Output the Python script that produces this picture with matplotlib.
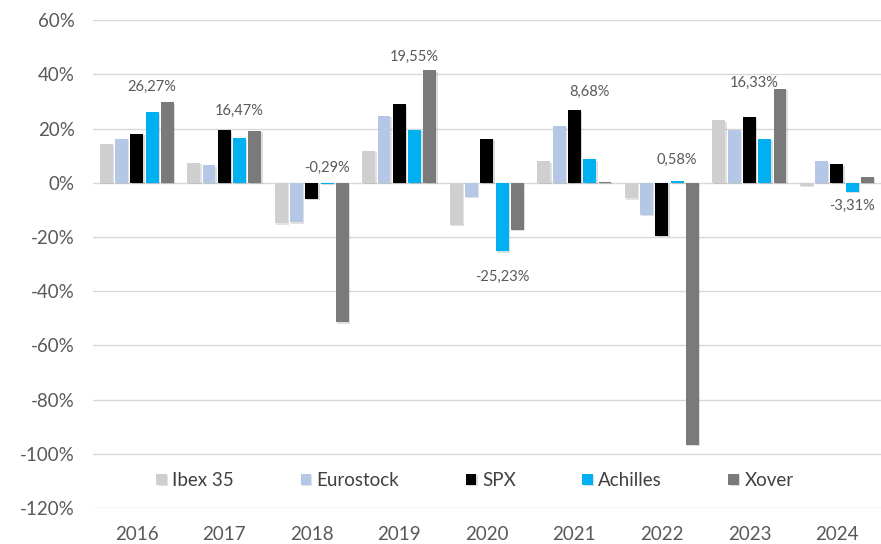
import numpy as np
import matplotlib
matplotlib.use("Agg")
import matplotlib.pyplot as plt
import matplotlib.patheffects as pe

# data (returns in %)
years = ["2016", "2017", "2018", "2019", "2020", "2021", "2022", "2023", "2024"]
ibex = [14.4, 7.3, -14.9, 11.8, -15.6, 7.9, -5.7, 23.0, -1.1]
eurostock = [16.2, 6.4, -14.6, 24.8, -5.1, 21.1, -11.9, 19.3, 7.9]
spx = [18.1, 19.6, -6.0, 29.0, 16.3, 27.0, -19.5, 24.3, 6.8]
achilles = [26.27, 16.47, -0.29, 19.55, -25.23, 8.68, 0.58, 16.33, -3.31]
xover = [29.7, 19.1, -51.4, 41.5, -17.4, 0.3, -96.7, 34.7, 2.3]

series_names = ["Ibex 35", "Eurostock", "SPX", "Achilles", "Xover"]
series = [ibex, eurostock, spx, achilles, xover]
colors = ["#cfcfcf", "#b4c7e7", "#000000", "#00b0f0", "#7a7a7a"]

# where the Achilles labels sit (y in %, x shift in category units)
label_y = [35.2, 26.7, 5.6, 46.3, -34.8, 33.7, 8.5, 36.7, -8.4]
label_dx = [0, 0, 0, 0, 0, 0, 0, -0.12, 0]

plt.rcParams['font.family'] = ['Lato', 'DejaVu Sans']

fig = plt.figure(figsize=(8.81, 5.44), dpi=100)
ax = fig.add_axes([0.1056, 0.066, 0.894, 0.897])

x = np.arange(len(years))
width = 0.148
step = 0.175
shadow = [pe.SimplePatchShadow(offset=(1, -1), alpha=0.15), pe.Normal()]

for i, (name, vals, c) in enumerate(zip(series_names, series, colors)):
    bars = ax.bar(x + (i - 2) * step, vals, width, color=c, label=name, zorder=3)
    for b in bars:
        b.set_path_effects(shadow)

# labels for Achilles
for xi, v, ly, dx in zip(x, achilles, label_y, label_dx):
    txt = f"{v:.2f}%".replace(".", ",")
    ax.text(xi + step + dx, ly, txt, ha="center", va="center", fontsize=10.5, color="#595959")

ax.set_ylim(-120, 60)
ax.set_xlim(-0.5, len(years) - 0.5)
ax.set_yticks(np.arange(-120, 61, 20))
ax.set_yticklabels([f"{t}%" for t in range(-120, 61, 20)])
ax.set_xticks(x)
ax.set_xticklabels(years)
ax.tick_params(axis="both", length=0, labelsize=13.5, colors="#595959")
ax.tick_params(axis="y", pad=13)
ax.tick_params(axis="x", pad=13)
ax.grid(axis="y", color="#d9d9d9", linewidth=1, zorder=0)
for s in ax.spines.values():
    s.set_visible(False)

ax.legend(loc="center", bbox_to_anchor=(0.485, 0.057), ncol=5, frameon=False,
          fontsize=13.5, labelcolor="#404040", handlelength=0.55, handleheight=0.55,
          handletextpad=0.3, columnspacing=3.55)

fig.savefig("out.png", dpi=100)
